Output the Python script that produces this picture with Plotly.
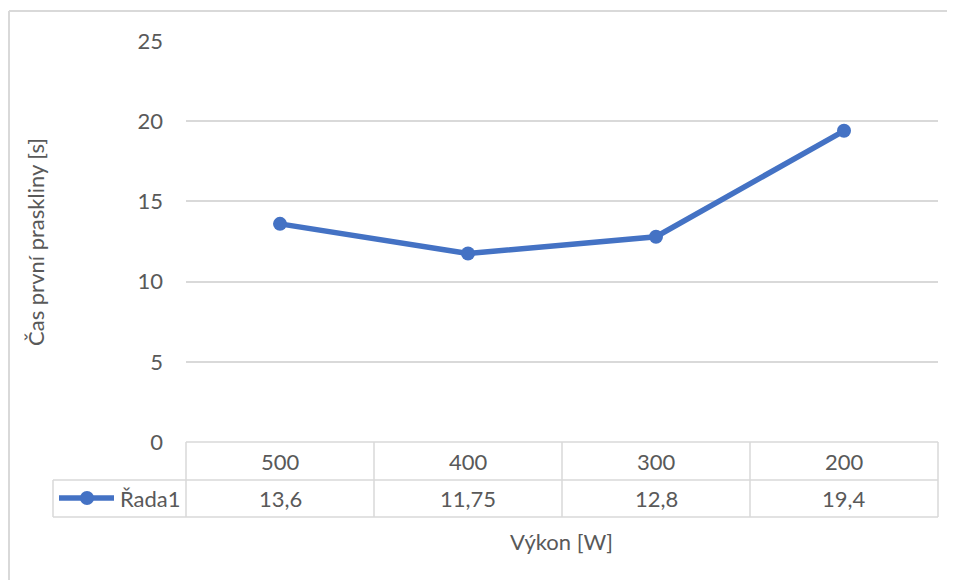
import plotly.graph_objects as go

categories = ["500", "400", "300", "200"]
values = [13.6, 11.75, 12.8, 19.4]
value_labels = ["13,6", "11,75", "12,8", "19,4"]
series_name = "Řada1"
y_ticks = [0, 5, 10, 15, 20, 25]
x_title = "Výkon [W]"
y_title = "Čas první praskliny [s]"

# the page body adds an 8px margin; compensate
OFF = 8
W, H = 955 - OFF, 580 - OFF
L, R, T, B = 186 - OFF, 938 - OFF, 41 - OFF, 442 - OFF
PW, PH = R - L, B - T

def px(x):
    return (x - OFF - L) / PW

def py(y):
    return (B - (y - OFF)) / PH

BLUE = "#4472C4"
GRID = "#D9D9D9"
TXT = "#595959"
FONT = "Lato"
FS = 22

fig = go.Figure()
fig.add_trace(go.Scatter(
    x=categories, y=values, mode="lines+markers", name=series_name,
    line=dict(color=BLUE, width=5.5), marker=dict(size=14, color=BLUE),
    showlegend=False, cliponaxis=False,
))

shapes = []
def line(x0, y0, x1, y1, color=GRID, w=1.5):
    shapes.append(dict(type="line", xref="paper", yref="paper",
                       x0=px(x0), y0=py(y0), x1=px(x1), y1=py(y1),
                       line=dict(color=color, width=w)))

# outer chart border (top and left visible)
line(9, 11, 955, 11, w=2)
line(9, 11, 9, 580, w=2)

# data table
row1_bot, row2_bot = 480, 517
line(186, 442, 938, 442)
line(53, row1_bot, 938, row1_bot)
line(53, row2_bot, 938, row2_bot)
line(53, row1_bot, 53, row2_bot)
n = len(categories)
col_w = (938 - 186) / n
for i in range(n + 1):
    xx = 186 + i * col_w
    line(xx, 442, xx, row2_bot)

# legend key
line(59, 498, 114, 498, color=BLUE, w=5.5)
shapes.append(dict(type="circle", xref="paper", yref="paper",
                   x0=px(87 - 7), x1=px(87 + 7), y0=py(498 + 7), y1=py(498 - 7),
                   fillcolor=BLUE, line=dict(color=BLUE, width=0)))

font = dict(family=FONT, size=FS, color=TXT)
annotations = []
for i, (c, v) in enumerate(zip(categories, value_labels)):
    annotations.append(dict(x=i, xref="x", y=py(461), yref="paper", text=c,
                            showarrow=False, font=font, xanchor="center", yanchor="middle"))
    annotations.append(dict(x=i, xref="x", y=py(498.5), yref="paper", text=v,
                            showarrow=False, font=font, xanchor="center", yanchor="middle"))
annotations.append(dict(x=px(118), xref="paper", y=py(498.5), yref="paper", text=series_name,
                        showarrow=False, font=font, xanchor="left", yanchor="middle"))
annotations.append(dict(x=px(561), xref="paper", y=py(541), yref="paper", text=x_title,
                        showarrow=False, font=font, xanchor="center", yanchor="middle"))
annotations.append(dict(x=px(35), xref="paper", y=py(242), yref="paper", text=y_title,
                        showarrow=False, textangle=-90, font=font,
                        xanchor="center", yanchor="middle"))

fig.update_layout(
    width=W, height=H,
    margin=dict(l=L, r=W - R, t=T, b=H - B, pad=0),
    paper_bgcolor="white", plot_bgcolor="white",
    shapes=shapes, annotations=annotations,
    xaxis=dict(type="category", range=[-0.5, n - 0.5], showgrid=False,
               showticklabels=False, zeroline=False, showline=False, ticks=""),
    yaxis=dict(range=[0, 25], tickvals=y_ticks, showgrid=True, gridcolor=GRID, gridwidth=1.5,
               zeroline=False, showline=False, ticks="", ticklabelstandoff=22,
               tickfont=font),
)

fig.write_html("out.html", config={"displayModeBar": False})
